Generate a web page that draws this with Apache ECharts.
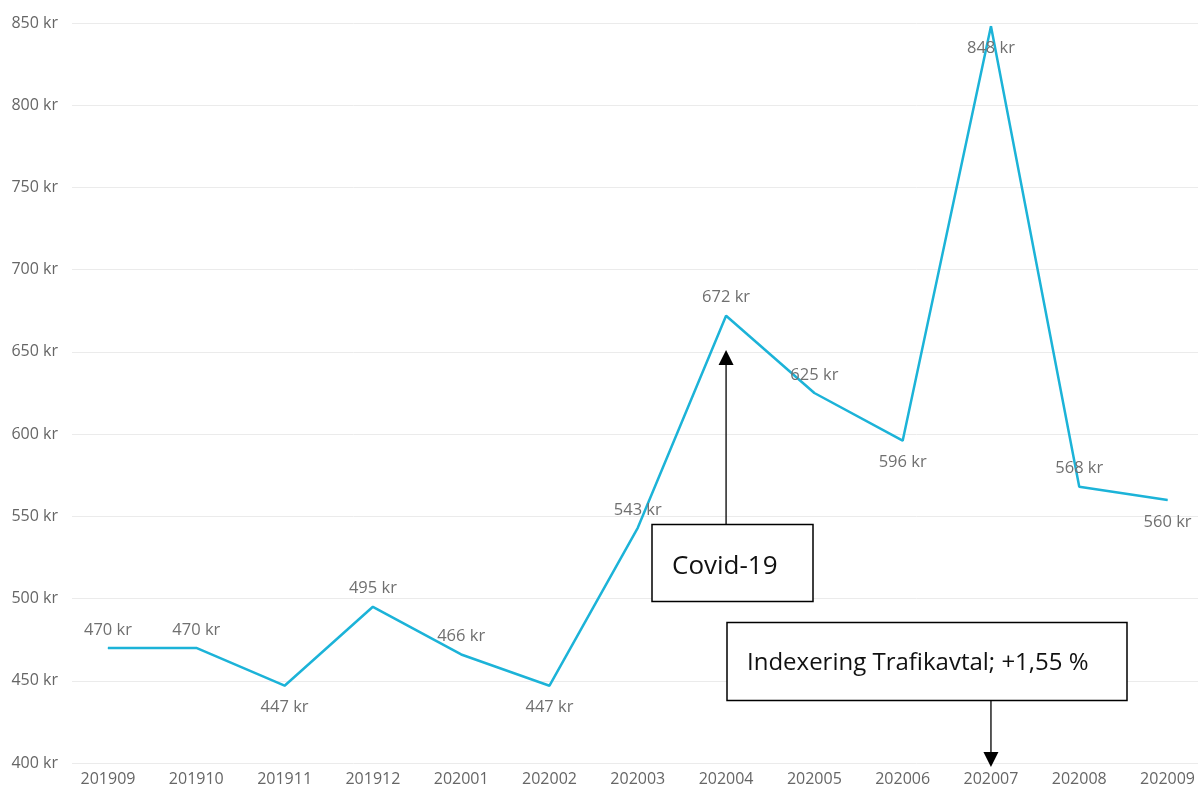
<!DOCTYPE html>
<html>
<head>
<meta charset="utf-8">
<title>Kostnad per månad</title>
<script src="https://cdn.jsdelivr.net/npm/echarts@6/dist/echarts.min.js"></script>
<style>
  html, body { margin: 0; padding: 0; background: #ffffff; }
  #chart { width: 1198px; height: 787px; }
</style>
</head>
<body>
<div id="chart"></div>
<script>
// Months (YYYYMM) and monthly amounts in kr
const months = ['201909','201910','201911','201912','202001','202002','202003','202004','202005','202006','202007','202008','202009'];
const amounts = [470, 470, 447, 495, 466, 447, 543, 672, 625, 596, 848, 568, 560];
// Where each value label sits relative to its point
const labelSides = ['top','top','bottom','top','top','bottom','top','top','top','bottom','bottom','top','bottom'];
// Value axis range and step
const yMin = 400, yMax = 850, yStep = 50;

// Annotation texts and the months they point at
const notes = [
  { text: 'Covid-19', month: '202004' },
  { text: 'Indexering Trafikavtal; +1,55 %', month: '202007' }
];

const FONT = '"Open Sans", "DejaVu Sans", sans-serif';
const GREY = '#666666';
const LINE = '#1cb3d8';

const chart = echarts.init(document.getElementById('chart'), null, { renderer: 'canvas' });

const seriesData = amounts.map((v, i) => ({
  value: v,
  label: { position: labelSides[i], distance: labelSides[i] === 'top' ? 9 : 13 }
}));

chart.setOption({
  animation: false,
  backgroundColor: '#ffffff',
  grid: [
    // wide grid carries the value gridlines and labels
    { left: 72, right: 0, top: 23, bottom: 24 },
    // inner grid carries the line itself
    { left: 108, right: 30, top: 23, bottom: 24 }
  ],
  xAxis: [
    { gridIndex: 0, type: 'value', min: 0, max: 1, show: false },
    {
      gridIndex: 1, type: 'category', data: months, boundaryGap: false,
      axisLine: { show: false }, axisTick: { show: false },
      axisLabel: { color: GREY, fontFamily: FONT, fontSize: 16, margin: 8 }
    }
  ],
  yAxis: [
    {
      gridIndex: 0, type: 'value', min: yMin, max: yMax, interval: yStep,
      axisLine: { show: false }, axisTick: { show: false },
      axisLabel: { color: GREY, fontFamily: FONT, fontSize: 16, margin: 14, formatter: v => v + ' kr' },
      splitLine: { lineStyle: { color: '#ebebeb', width: 1 } }
    },
    { gridIndex: 1, type: 'value', min: yMin, max: yMax, interval: yStep, show: false, splitLine: { show: false } }
  ],
  series: [{
    type: 'line',
    xAxisIndex: 1, yAxisIndex: 1,
    data: seriesData,
    symbol: 'circle', symbolSize: 1,
    itemStyle: { color: LINE },
    lineStyle: { color: LINE, width: 2.5 },
    label: {
      show: true, color: '#707070', fontFamily: FONT, fontSize: 16.5,
      formatter: p => p.value + ' kr'
    },
    emphasis: { disabled: true }
  }]
});

// Annotation boxes with arrows, anchored to the category positions
function arrowHead(x, tipY, dir) {
  const base = tipY - dir * 15;
  return { type: 'polygon', shape: { points: [[x, tipY], [x - 7.5, base], [x + 7.5, base]] }, style: { fill: '#000' }, z: 10 };
}

const covidX = chart.convertToPixel({ xAxisIndex: 1 }, notes[0].month);
const indexX = chart.convertToPixel({ xAxisIndex: 1 }, notes[1].month);

chart.setOption({
  graphic: [
    // Covid-19 note
    { type: 'line', shape: { x1: covidX, y1: 525, x2: covidX, y2: 363 }, style: { stroke: '#000', lineWidth: 1.3 }, z: 10 },
    arrowHead(covidX, 350, -1),
    { type: 'rect', shape: { x: 652, y: 524.5, width: 161, height: 77 }, style: { fill: '#fff', stroke: '#000', lineWidth: 1.5 }, z: 10 },
    { type: 'text', x: 672, y: 567, style: { text: notes[0].text, font: '26px ' + FONT, fill: '#111', textVerticalAlign: 'middle' }, z: 11 },
    // indexation note
    { type: 'rect', shape: { x: 727, y: 622.5, width: 400, height: 78 }, style: { fill: '#fff', stroke: '#000', lineWidth: 1.5 }, z: 10 },
    { type: 'text', x: 747, y: 663, style: { text: notes[1].text, font: '24px ' + FONT, fill: '#111', textVerticalAlign: 'middle' }, z: 11 },
    { type: 'line', shape: { x1: indexX, y1: 701, x2: indexX, y2: 755 }, style: { stroke: '#000', lineWidth: 1.3 }, z: 10 },
    arrowHead(indexX, 767, 1)
  ]
});
</script>
</body>
</html>
